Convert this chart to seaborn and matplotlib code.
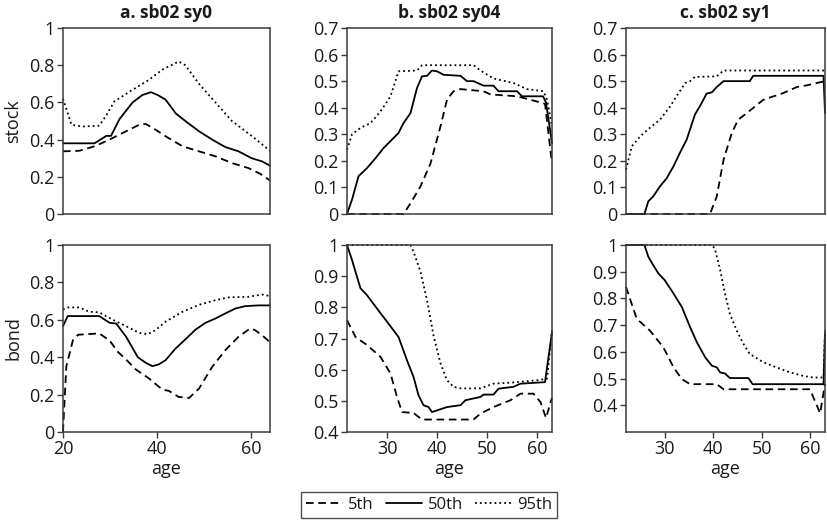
import matplotlib
matplotlib.use("Agg")
import matplotlib.pyplot as plt
import seaborn as sns
import pandas as pd
from matplotlib.lines import Line2D
from matplotlib.ticker import FuncFormatter

# ---------------- data ----------------
pct_labels = ["5th", "50th", "95th"]
row_labels = ["stock", "bond"]
panel_titles = ["a. sb02 sy0", "b. sb02 sy04", "c. sb02 sy1"]

# panel a, stock
a_stock_p5_age = [20, 23.5, 26.7, 29.9, 33.4, 36.2, 37.6, 39.7, 41.8, 45.4, 48.9, 52.4, 55.9, 59.4, 62, 64]
a_stock_p5 = [0.337, 0.34, 0.364, 0.40, 0.445, 0.48, 0.484, 0.453, 0.418, 0.364, 0.337, 0.31, 0.274, 0.247, 0.215, 0.18]
a_stock_p50_age = [20, 26.7, 29.2, 30.2, 32, 34.8, 36.9, 38.7, 40.1, 41.8, 44, 46, 48.9, 51.7, 54.5, 57.3, 60.1, 62.3, 64]
a_stock_p50 = [0.38, 0.38, 0.42, 0.42, 0.51, 0.60, 0.64, 0.655, 0.64, 0.615, 0.54, 0.50, 0.445, 0.40, 0.36, 0.337, 0.30, 0.283, 0.26]
a_stock_p95_age = [20, 21.8, 24, 27.7, 29.2, 30.9, 34.8, 38.3, 41.1, 44.6, 46, 48.9, 52.4, 55.9, 60.1, 64]
a_stock_p95 = [0.62, 0.48, 0.47, 0.475, 0.53, 0.605, 0.668, 0.722, 0.776, 0.82, 0.80, 0.70, 0.60, 0.50, 0.42, 0.34]

# panel a, bond
a_bond_p5_age = [20, 20.7, 22.1, 23.2, 27.7, 29.9, 31.6, 33.4, 35.5, 38.3, 41.1, 42.5, 44.6, 46.8, 48.9, 51.7, 54.5, 57.3, 59.8, 60.8, 62.3, 64]
a_bond_p5 = [0, 0.35, 0.49, 0.52, 0.527, 0.49, 0.43, 0.388, 0.334, 0.286, 0.227, 0.22, 0.1875, 0.182, 0.232, 0.348, 0.4375, 0.509, 0.554, 0.545, 0.518, 0.48]
a_bond_p50_age = [20, 21, 27.7, 29.9, 31.3, 33.4, 35.9, 37.6, 39, 40.4, 41.8, 43.9, 46, 48.2, 50.3, 52.4, 54.5, 56.6, 58.7, 61.5, 64]
a_bond_p50 = [0.566, 0.62, 0.62, 0.584, 0.58, 0.51, 0.40, 0.37, 0.352, 0.362, 0.384, 0.446, 0.495, 0.548, 0.584, 0.607, 0.634, 0.66, 0.673, 0.677, 0.677]
a_bond_p95_age = [20, 21, 23.5, 25.6, 27.7, 30.6, 33.4, 36.2, 38, 39.7, 41.8, 45.4, 48.9, 52.4, 55.2, 59.4, 62.3, 64]
a_bond_p95 = [0.655, 0.666, 0.666, 0.643, 0.64, 0.60, 0.566, 0.53, 0.523, 0.545, 0.59, 0.643, 0.68, 0.705, 0.72, 0.723, 0.735, 0.727]

# panel b, stock
b_stock_p5_age = [22, 33.3, 34.7, 36.7, 38.7, 40.7, 42, 43.3, 44.7, 49.3, 50.7, 56, 58.7, 61.6, 63]
b_stock_p5 = [0, 0, 0.04, 0.104, 0.19, 0.33, 0.43, 0.462, 0.47, 0.462, 0.45, 0.443, 0.43, 0.415, 0.19]
b_stock_p50_age = [22, 23, 24.3, 26, 27.7, 29.3, 31, 32.3, 33.3, 34.7, 36, 37, 38, 39, 40, 41.3, 44.7, 46, 47.3, 49.3, 51.3, 52.3, 56, 57, 61.2, 61.8, 63]
b_stock_p50 = [0, 0.054, 0.142, 0.173, 0.21, 0.248, 0.28, 0.305, 0.342, 0.38, 0.474, 0.518, 0.52, 0.54, 0.537, 0.524, 0.52, 0.50, 0.50, 0.483, 0.483, 0.462, 0.462, 0.443, 0.443, 0.42, 0.267]
b_stock_p95_age = [22, 23, 24.7, 26.7, 28.7, 30.7, 32.3, 36, 37, 47.3, 48.7, 51.3, 55.3, 58, 61.3, 62, 63]
b_stock_p95 = [0.242, 0.30, 0.324, 0.342, 0.386, 0.443, 0.537, 0.54, 0.56, 0.56, 0.54, 0.51, 0.493, 0.47, 0.462, 0.43, 0.33]

# panel b, bond
b_bond_p5_age = [22, 23.7, 26, 28.7, 30.7, 32, 33, 35.3, 37, 47.3, 48.7, 51.3, 54.7, 56.7, 59.3, 60.7, 61.8, 63]
b_bond_p5 = [0.759, 0.705, 0.679, 0.641, 0.5875, 0.5125, 0.464, 0.461, 0.44, 0.44, 0.459, 0.48, 0.502, 0.523, 0.523, 0.496, 0.445, 0.51]
b_bond_p50_age = [22, 23, 24, 24.7, 26, 28, 30, 32.3, 34, 35.3, 36.3, 37.3, 38.3, 39, 42, 44.7, 45.7, 48.7, 49.3, 51.3, 52.3, 55.3, 56.7, 61.6, 63]
b_bond_p50 = [1.0, 0.952, 0.898, 0.861, 0.839, 0.796, 0.754, 0.705, 0.63, 0.577, 0.518, 0.486, 0.48, 0.464, 0.48, 0.486, 0.502, 0.5125, 0.52, 0.52, 0.539, 0.545, 0.555, 0.56, 0.72]
b_bond_p95_age = [22, 34.7, 35.3, 36.7, 38, 39.3, 40.7, 42, 43.3, 44.7, 48.7, 51.3, 55.3, 60, 62, 63]
b_bond_p95 = [1, 1, 0.979, 0.914, 0.823, 0.71, 0.62, 0.566, 0.545, 0.54, 0.54, 0.555, 0.559, 0.566, 0.571, 0.727]

# panel c, stock
c_stock_p5_age = [22, 39.3, 40.7, 42.1, 43.8, 45.1, 46.9, 48.6, 50.3, 52.4, 54.4, 57.2, 59.2, 61.3, 63]
c_stock_p5 = [0, 0, 0.066, 0.204, 0.305, 0.355, 0.38, 0.405, 0.43, 0.443, 0.455, 0.478, 0.484, 0.493, 0.50]
c_stock_p50_age = [22, 25.8, 26.6, 27.6, 29, 30.4, 31.8, 33.1, 34.5, 36.2, 37.6, 38.6, 39.7, 40.7, 42.1, 47.5, 48.2, 62.7, 63]
c_stock_p50 = [0, 0, 0.048, 0.066, 0.104, 0.135, 0.18, 0.23, 0.28, 0.374, 0.418, 0.453, 0.458, 0.478, 0.50, 0.50, 0.52, 0.52, 0.38]
c_stock_p95_age = [22, 23.2, 24.9, 26.9, 29, 31.1, 32.4, 34.2, 35.2, 36.2, 40.7, 42.1, 63]
c_stock_p95 = [0.167, 0.255, 0.292, 0.324, 0.355, 0.405, 0.443, 0.493, 0.50, 0.516, 0.518, 0.54, 0.54]

# panel c, bond
c_bond_p5_age = [22, 24.2, 26.9, 29.7, 31.8, 33.5, 35.2, 40.7, 42.1, 59.9, 62, 63]
c_bond_p5 = [0.843, 0.724, 0.68, 0.617, 0.542, 0.498, 0.479, 0.479, 0.46, 0.46, 0.37, 0.48]
c_bond_p50_age = [22, 25.8, 26.6, 27.6, 28.7, 30, 31.8, 33.5, 35.2, 36.6, 38.3, 39.7, 40.7, 41.4, 42.4, 43.4, 47.2, 48.1, 62.7, 63]
c_bond_p50 = [1, 1, 0.956, 0.925, 0.893, 0.868, 0.818, 0.768, 0.693, 0.636, 0.58, 0.548, 0.542, 0.523, 0.519, 0.502, 0.502, 0.479, 0.479, 0.67]
c_bond_p95_age = [22, 39.65, 40.3, 41.4, 42.4, 43.4, 44.8, 46.2, 47.5, 50.3, 53, 55.8, 58.5, 60.6, 62.7, 63]
c_bond_p95 = [1, 1, 0.987, 0.906, 0.818, 0.743, 0.68, 0.63, 0.592, 0.561, 0.542, 0.523, 0.51, 0.504, 0.504, 0.68]

series = {
    ("a", "stock"): [(a_stock_p5_age, a_stock_p5), (a_stock_p50_age, a_stock_p50), (a_stock_p95_age, a_stock_p95)],
    ("a", "bond"): [(a_bond_p5_age, a_bond_p5), (a_bond_p50_age, a_bond_p50), (a_bond_p95_age, a_bond_p95)],
    ("b", "stock"): [(b_stock_p5_age, b_stock_p5), (b_stock_p50_age, b_stock_p50), (b_stock_p95_age, b_stock_p95)],
    ("b", "bond"): [(b_bond_p5_age, b_bond_p5), (b_bond_p50_age, b_bond_p50), (b_bond_p95_age, b_bond_p95)],
    ("c", "stock"): [(c_stock_p5_age, c_stock_p5), (c_stock_p50_age, c_stock_p50), (c_stock_p95_age, c_stock_p95)],
    ("c", "bond"): [(c_bond_p5_age, c_bond_p5), (c_bond_p50_age, c_bond_p50), (c_bond_p95_age, c_bond_p95)],
}

rows = []
for (pan, asset), lst in series.items():
    for pct, (ages, vals) in zip(pct_labels, lst):
        for x, v in zip(ages, vals):
            rows.append({"panel": pan, "asset": asset, "pct": pct, "age": x, "value": v})
df = pd.DataFrame(rows)

# ---------------- styling ----------------
sns.set_style("white")
plt.rcParams["font.family"] = ["Open Sans", "DejaVu Sans"]
spine_col = "#3c3c3c"
text_col = "#1a1a1a"

dash_map = {"5th": (4.2, 2.6), "50th": "", "95th": (1.0, 1.7)}

fig = plt.figure(figsize=(8.27, 5.24), dpi=100)
W, H = 827.0, 524.0
lefts = [63, 347, 626]
widths = [207, 205, 199]
tops = {"stock": (28, 214), "bond": (245, 432)}

ylims = {
    ("a", "stock"): (0, 1, [0, 0.2, 0.4, 0.6, 0.8, 1]),
    ("b", "stock"): (0, 0.7, [0, 0.1, 0.2, 0.3, 0.4, 0.5, 0.6, 0.7]),
    ("c", "stock"): (0, 0.7, [0, 0.1, 0.2, 0.3, 0.4, 0.5, 0.6, 0.7]),
    ("a", "bond"): (0, 1, [0, 0.2, 0.4, 0.6, 0.8, 1]),
    ("b", "bond"): (0.4, 1, [0.4, 0.5, 0.6, 0.7, 0.8, 0.9, 1]),
    ("c", "bond"): (0.3, 1, [0.4, 0.5, 0.6, 0.7, 0.8, 0.9, 1]),
}
xlims = {"a": (20, 64), "b": (22, 63), "c": (22, 63)}
xticks = {"a": [20, 40, 60], "b": [30, 40, 50, 60], "c": [30, 40, 50, 60]}

fmt = FuncFormatter(lambda v, p: f"{v:g}")

for j, pan in enumerate(["a", "b", "c"]):
    for asset in row_labels:
        t, b = tops[asset]
        ax = fig.add_axes([lefts[j] / W, 1 - b / H, widths[j] / W, (b - t) / H])
        sub = df[(df.panel == pan) & (df.asset == asset)]
        sns.lineplot(data=sub, x="age", y="value", style="pct", style_order=pct_labels,
                     dashes=dash_map, color="black", linewidth=1.3, estimator=None,
                     sort=False, legend=False, ax=ax)
        for ln in ax.lines:
            ln.set_clip_on(False)
        lo, hi, yt = ylims[(pan, asset)]
        ax.set_ylim(lo, hi)
        ax.set_yticks(yt)
        ax.yaxis.set_major_formatter(fmt)
        ax.set_xlim(*xlims[pan])
        for s in ax.spines.values():
            s.set_color(spine_col)
            s.set_linewidth(1.1)
        ax.tick_params(axis="both", direction="out", length=4, width=1.0, color=spine_col,
                       labelsize=13, labelcolor=text_col, pad=2)
        ax.set_ylabel("")
        if asset == "stock":
            ax.set_xticks([])
            ax.set_xlabel("")
            ax.set_title(panel_titles[j], fontsize=12.5, fontweight="bold", pad=7, color=text_col)
        else:
            ax.set_xticks(xticks[pan])
            ax.set_xlabel("age", fontsize=13, labelpad=1, color=text_col)
        ax.tick_params(axis="x", bottom=(asset == "bond"))
        ax.tick_params(axis="y", left=True)
        if j == 0:
            fig.text(13 / W, 1 - ((t + b) / 2) / H, asset, rotation=90, ha="center", va="center",
                     fontsize=13, color=text_col)

handles = [Line2D([0], [0], color="black", linewidth=1.3,
                  linestyle=(0, dash_map[p]) if dash_map[p] else "-") for p in pct_labels]
leg = fig.legend(handles, pct_labels, loc="center", bbox_to_anchor=(429 / W, 1 - 505 / H),
                 ncol=3, frameon=True, fancybox=False, fontsize=12, handlelength=2.2,
                 handletextpad=0.3, columnspacing=0.75, borderpad=0.3, edgecolor="#222222")
leg.get_frame().set_linewidth(1.0)
for txt in leg.get_texts():
    txt.set_color(text_col)

fig.savefig("out.png", dpi=100, facecolor="white")
